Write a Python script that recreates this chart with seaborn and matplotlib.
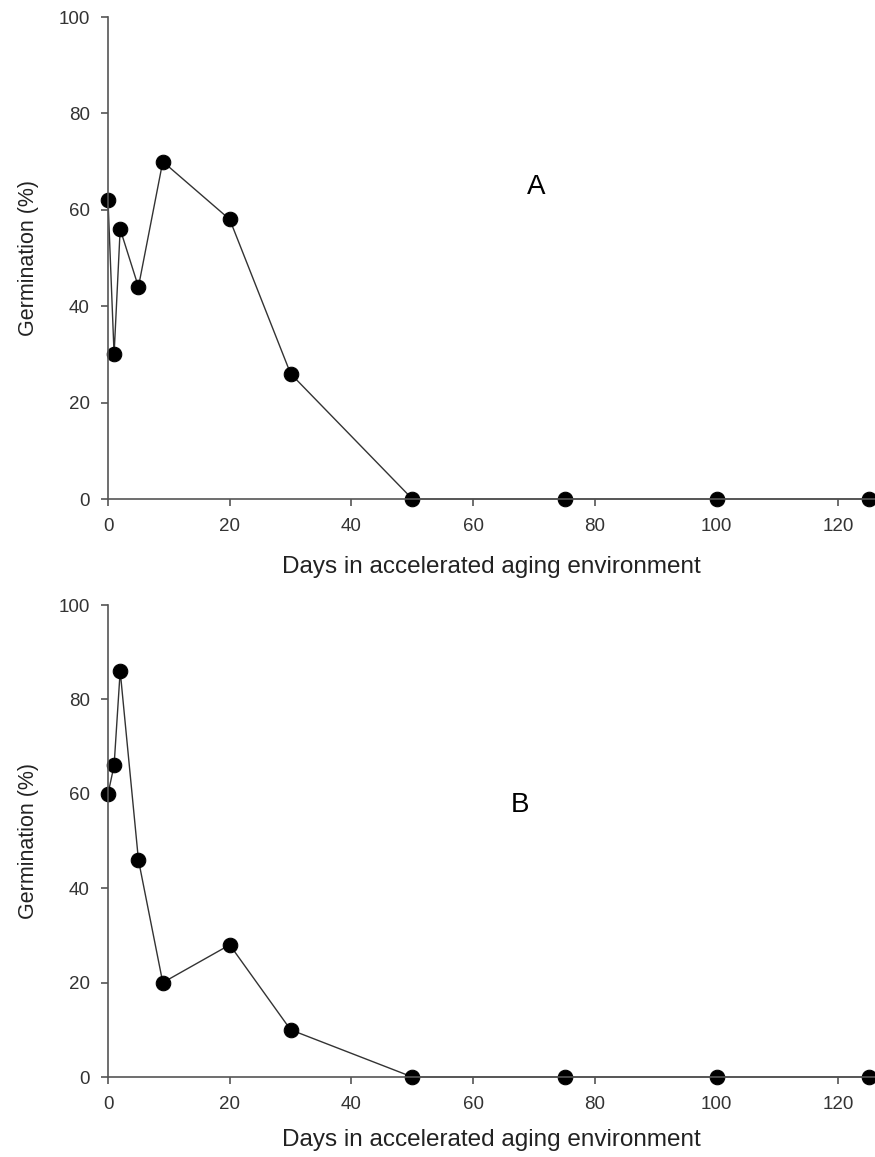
import numpy as np
import pandas as pd
import matplotlib
matplotlib.use("Agg")
import matplotlib.pyplot as plt
import seaborn as sns

sns.set_style("ticks")
plt.rcParams['font.family'] = ['Liberation Sans', 'DejaVu Sans']

# Veriler
days = [0, 1, 2, 5, 9, 20, 30, 50, 75, 100, 125]
germ_a = [62, 30, 56, 44, 70, 58, 26, 0, 0, 0, 0]
germ_b = [60, 66, 86, 46, 20, 28, 10, 0, 0, 0, 0]
panel_labels = ["A", "B"]

fig = plt.figure(figsize=(8.75, 11.57), dpi=100)
ax_a = fig.add_axes([108/875, 658/1157, 767/875, 482/1157])
ax_b = fig.add_axes([108/875, 80/1157, 767/875, 472/1157])

axis_col = '#555555'
label_pos = [(70.4, 64.7), (67.6, 57.6)]
xlab_pad = [15, 11]

for ax, germ, lab, pos, lp in zip([ax_a, ax_b], [germ_a, germ_b], panel_labels,
                                  label_pos, xlab_pad):
    df = pd.DataFrame({'day': days, 'germ': germ})
    sns.lineplot(data=df, x='day', y='germ', ax=ax, color='#333333', linewidth=1.0,
                 marker='o', markersize=10.5, markerfacecolor='black',
                 markeredgecolor='black', clip_on=False)
    ax.set_xlim(0, 126)
    ax.set_ylim(0, 100)
    ax.set_xticks(np.arange(0, 121, 20))
    ax.set_yticks(np.arange(0, 101, 20))
    sns.despine(ax=ax)
    for s in ['left', 'bottom']:
        ax.spines[s].set_color(axis_col)
        ax.spines[s].set_linewidth(1.2)
    ax.tick_params(direction='out', length=5, width=1.2, color=axis_col,
                   labelsize=13.5, labelcolor='#333333')
    ax.tick_params(axis='x', pad=9)
    ax.tick_params(axis='y', pad=8)
    ax.set_xlabel('Days in accelerated aging environment', fontsize=17.5,
                  color='#222222', labelpad=lp)
    ax.set_ylabel('Germination (%)', fontsize=15.5, color='#222222', labelpad=14)
    ax.text(pos[0], pos[1], lab, fontsize=20, color='black', ha='center', va='center')

fig.savefig('out.png', dpi=100, facecolor='white')
